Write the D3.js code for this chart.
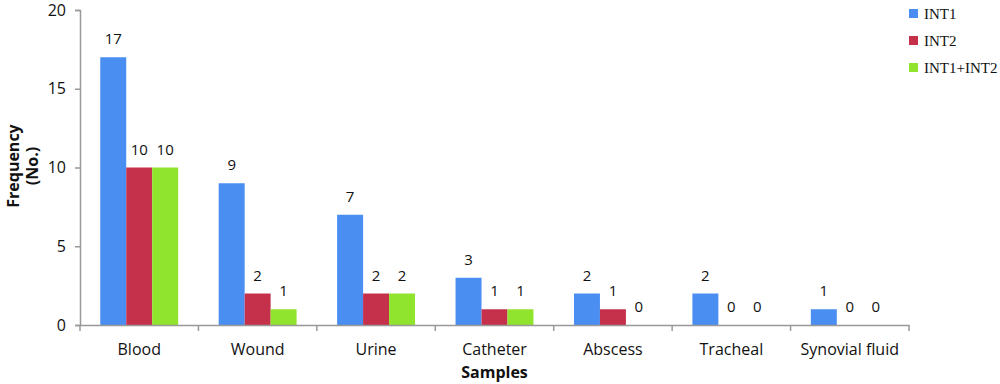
<!DOCTYPE html>
<html>
<head>
<meta charset="utf-8">
<script src="https://cdn.jsdelivr.net/npm/d3@7"></script>
<style>
body { margin: 0; background: #fff; }
</style>
</head>
<body>
<script>
var categories = ["Blood", "Wound", "Urine", "Catheter", "Abscess", "Tracheal", "Synovial fluid"];
var seriesNames = ["INT1", "INT2", "INT1+INT2"];
var int1 = [17, 9, 7, 3, 2, 2, 1];
var int2 = [10, 2, 2, 1, 1, 0, 0];
var int12 = [10, 1, 2, 1, 0, 0, 0];
var yTicks = [0, 5, 10, 15, 20];
var colors = ["#4a8ef2", "#c5304b", "#91e42d"];

var w = 1000;
var h = 384;
var plotLeft = 80, plotRight = 909, plotTop = 10, plotBottom = 325;
var labelFont = "'Open Sans', sans-serif";

var svg = d3.select("body")
    .append("svg")
    .attr("width", w)
    .attr("height", h);

var allSeries = [int1, int2, int12];

var xScale = d3.scaleBand()
    .domain(categories)
    .range([plotLeft, plotRight]);

var subScale = d3.scaleBand()
    .domain(seriesNames)
    .range([0, xScale.bandwidth()])
    .paddingOuter(0.78)
    .paddingInner(0);

var yScale = d3.scaleLinear()
    .domain([0, 20])
    .range([plotBottom, plotTop]);

// bars
categories.forEach(function (c, ci) {
    var g = svg.append("g").attr("transform", "translate(" + xScale(c) + ",0)");
    seriesNames.forEach(function (s, si) {
        var v = allSeries[si][ci];
        g.append("rect")
            .attr("x", subScale(s))
            .attr("y", yScale(v))
            .attr("width", subScale.bandwidth())
            .attr("height", plotBottom - yScale(v))
            .attr("fill", colors[si]);
        g.append("text")
            .attr("x", subScale(s) + subScale.bandwidth() / 2)
            .attr("y", yScale(v) - 13)
            .attr("text-anchor", "middle")
            .attr("font-family", labelFont)
            .attr("font-size", "15px")
            .attr("fill", "#111")
            .text(v);
    });
});

// y axis
var yAxis = d3.axisLeft(yScale).tickValues(yTicks).tickSize(5).tickPadding(9);
var gy = svg.append("g")
    .attr("transform", "translate(" + plotLeft + ",0)")
    .call(yAxis);
gy.selectAll("path, line").attr("stroke", "#999").attr("stroke-width", 1.5);
gy.selectAll("text")
    .attr("font-family", labelFont)
    .attr("font-size", "16px")
    .attr("fill", "#111");

// x axis
var xAxis = d3.axisBottom(xScale).tickSize(0).tickPadding(19);
var gx = svg.append("g")
    .attr("transform", "translate(0," + plotBottom + ")")
    .call(xAxis);
gx.select("path").attr("stroke", "#999").attr("stroke-width", 1.5);
gx.selectAll("text")
    .attr("font-family", labelFont)
    .attr("font-size", "16px")
    .attr("fill", "#111");
// boundary ticks between categories
var bounds = categories.map(function (c) { return xScale(c); }).concat([plotRight]);
svg.selectAll("line.bound")
    .data(bounds)
    .join("line")
    .attr("class", "bound")
    .attr("x1", d => d).attr("x2", d => d)
    .attr("y1", plotBottom).attr("y2", plotBottom + 6)
    .attr("stroke", "#999")
    .attr("stroke-width", 1.5);

// axis titles
svg.append("text")
    .attr("x", (plotLeft + plotRight) / 2)
    .attr("y", 378)
    .attr("text-anchor", "middle")
    .attr("font-family", labelFont)
    .attr("font-weight", "bold")
    .attr("font-size", "16px")
    .attr("fill", "#111")
    .text("Samples");

var yt = svg.append("text")
    .attr("transform", "translate(19,166) rotate(-90)")
    .attr("text-anchor", "middle")
    .attr("font-family", labelFont)
    .attr("font-weight", "bold")
    .attr("font-size", "16px")
    .attr("fill", "#111");
yt.append("tspan").attr("x", 0).attr("y", 0).text("Frequency");
yt.append("tspan").attr("x", 0).attr("y", 19).text("(No.)");

// legend
var legend = svg.append("g").attr("transform", "translate(909,9)");
seriesNames.forEach(function (s, i) {
    legend.append("rect")
        .attr("x", 0)
        .attr("y", i * 27)
        .attr("width", 9)
        .attr("height", 9)
        .attr("fill", colors[i]);
    legend.append("text")
        .attr("x", 15)
        .attr("y", i * 27 + 10)
        .attr("font-family", "'Liberation Serif', serif")
        .attr("font-size", "15px")
        .attr("fill", "#111")
        .text(s);
});
</script>
</body>
</html>
